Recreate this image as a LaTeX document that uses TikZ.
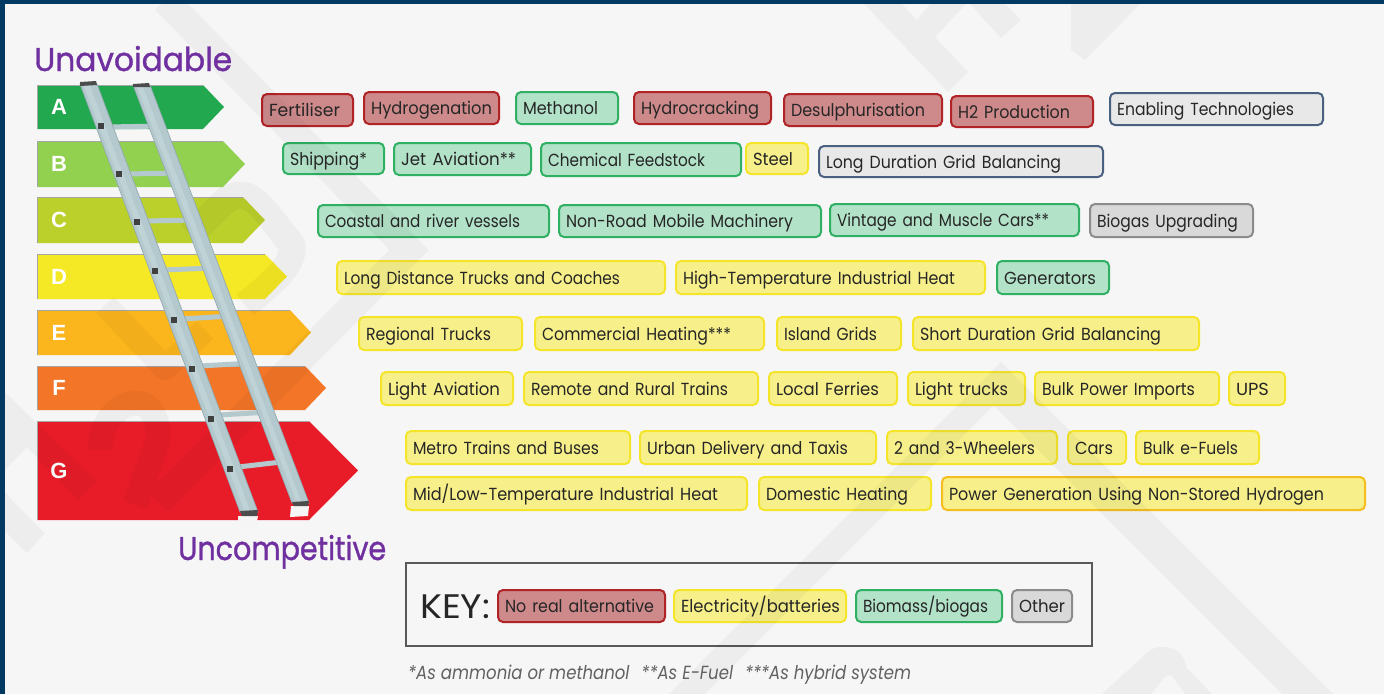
\documentclass[tikz,border=0pt]{standalone}
\usepackage{fontspec}
\setmainfont[FakeStretch=0.875]{Poppins}
\newfontfamily\headfont[FakeStretch=0.95,FakeBold=1]{Poppins}
\newfontfamily\keyfont{Poppins}
\newfontfamily\bandfont{Liberation Sans}
\definecolor{pagebg}{HTML}{F6F6F6}
\definecolor{frame}{HTML}{003A63}
\definecolor{purp}{HTML}{7030A0}
\definecolor{redf}{HTML}{CE8A8B}\definecolor{redd}{HTML}{B02327}
\definecolor{yelf}{HTML}{F7F08A}\definecolor{yeld}{HTML}{F4E52B}
\definecolor{grnf}{HTML}{B2E2C8}\definecolor{grnd}{HTML}{2FB062}
\definecolor{gryf}{HTML}{D9D9D9}\definecolor{gryd}{HTML}{8C8C8C}
\definecolor{enaf}{HTML}{E8E8E8}\definecolor{enad}{HTML}{4A6080}
\definecolor{orad}{HTML}{F5BE1E}
\definecolor{railc}{HTML}{B4C9CE}\definecolor{railh}{HTML}{BFD3D7}\definecolor{raild}{HTML}{93A9AF}
\definecolor{bandA}{HTML}{22A84F}\definecolor{bandB}{HTML}{92D14F}\definecolor{bandC}{HTML}{BCD02C}
\definecolor{bandD}{HTML}{F5E824}\definecolor{bandE}{HTML}{FBB61D}\definecolor{bandF}{HTML}{F37527}\definecolor{bandG}{HTML}{E81C29}
\tikzset{x=1pt,y=-1pt,
  tagbase/.style={rounded corners=5pt,line width=2pt,anchor=north west,inner xsep=7pt,inner ysep=0pt,align=left,
    font=\fontsize{17.5}{18}\selectfont,text=black!85,text height=15pt,text depth=2pt},
  redtag/.style={tagbase,draw=redd,fill=redf},
  yeltag/.style={tagbase,draw=yeld,fill=yelf},
  oratag/.style={tagbase,draw=orad,fill=yelf},
  grntag/.style={tagbase,draw=grnd,fill=grnf},
  grytag/.style={tagbase,draw=gryd,fill=gryf},
  enatag/.style={tagbase,draw=enad,fill=enaf},
  bandtxt/.style={font=\bandfont\bfseries\fontsize{22}{24}\selectfont,text=white,inner sep=0pt},
  headtxt/.style={font=\headfont\fontsize{33}{34}\selectfont,text=purp,anchor=base west,inner sep=0pt},
  railpoly/.style={fill=railc,draw=raild,line width=0.7pt},
  rungline/.style={draw=railc,line width=5pt},
  squaremark/.style={fill=black!75},
  capmark/.style={fill=black!70},
  wmstroke/.style={draw=black,line width=28pt,miter limit=10},
}
\newlength{\fitlen}
\newcommand{\fittext}[2]{\settowidth{\fitlen}{#2}\pgfmathsetmacro{\fitf}{#1/\fitlen}\scalebox{\fitf}[1]{#2}}
% name, style, x0, y0, x1, y1, end of text, text
\newcommand{\tagbox}[8]{%
  \pgfmathsetmacro{\tgh}{#6-#4-2}\pgfmathsetmacro{\tgt}{#5-#3-16}\pgfmathsetmacro{\tgf}{#7-#3-8}%
  \node[#2,minimum height=\tgh pt,text width=\tgt pt] (#1) at (#3,#4) {\fittext{\tgf}{#8}};}
\newcommand{\bandarrow}[5]{%
  \pgfmathsetmacro{\bandmid}{(#2+#3)/2}%
  \fill[band#1] (37,#2) -- (#4,#2) -- (#5,\bandmid) -- (#4,#3) -- (37,#3) -- cycle;
  \draw[black!35,line width=0.7pt] (37,#3) -- (37,#2) -- (#4,#2);
  \node[bandtxt] (letter#1) at (59,\bandmid) {#1};}
\newcommand{\ladsq}[2]{\fill[squaremark] (#1-3.2,#2-3) rectangle (#1+3.2,#2+3);}
\begin{document}
\begin{tikzpicture}
\useasboundingbox (0,0) rectangle (1384,694);
\fill[frame] (0,0) rectangle (1384,694);
\fill[pagebg] (5,4) rectangle (1384,694);
% energy-label arrows
\bandarrow{A}{85}{129}{203}{224}
\bandarrow{B}{141}{187}{223}{245}
\bandarrow{C}{197}{243}{243}{265}
\bandarrow{D}{254}{299}{265}{287}
\bandarrow{E}{310}{355}{290}{311}
\bandarrow{F}{366}{410}{305}{326}
\bandarrow{G}{421}{520}{309}{358}
% row A
\tagbox{fert}{redtag}{261}{93}{354}{127}{340}{Fertiliser}
\tagbox{hydg}{redtag}{363}{91}{500}{125}{492}{Hydrogenation}
\tagbox{meth}{grntag}{515}{91}{619}{125}{598}{Methanol}
\tagbox{hydc}{redtag}{633}{91}{772}{125}{759}{Hydrocracking}
\tagbox{desu}{redtag}{783}{93}{943}{127}{925}{Desulphurisation}
\tagbox{htwo}{redtag}{950}{95}{1094}{128}{1070}{H2 Production}
\tagbox{enab}{enatag}{1109}{92}{1324}{126}{1294}{Enabling Technologies}
% row B
\tagbox{ship}{grntag}{282}{142}{385}{175}{367}{Shipping*}
\tagbox{jeta}{grntag}{393}{142}{532}{176}{516}{Jet Aviation**}
\tagbox{chem}{grntag}{540}{142}{742}{177}{705}{Chemical Feedstock}
\tagbox{stee}{yeltag}{745}{142}{809}{175}{793}{Steel}
\tagbox{long}{enatag}{818}{145}{1104}{178}{1061}{Long Duration Grid Balancing}
% row C
\tagbox{coas}{grntag}{317}{204}{550}{238}{520}{Coastal and river vessels}
\tagbox{nonr}{grntag}{558}{204}{822}{238}{793}{Non-Road Mobile Machinery}
\tagbox{vint}{grntag}{829}{203}{1080}{237}{1049}{Vintage and Muscle Cars**}
\tagbox{biog}{grytag}{1089}{203}{1254}{238}{1238}{Biogas Upgrading}
% row D
\tagbox{ldtr}{yeltag}{336}{260}{666}{295}{620}{Long Distance Trucks and Coaches}
\tagbox{high}{yeltag}{675}{260}{986}{295}{955}{High-Temperature Industrial Heat}
\tagbox{gene}{grntag}{996}{260}{1110}{295}{1096}{Generators}
% row E
\tagbox{regi}{yeltag}{358}{316}{523}{351}{491}{Regional Trucks}
\tagbox{comm}{yeltag}{534}{316}{765}{351}{731}{Commercial Heating***}
\tagbox{isla}{yeltag}{776}{316}{902}{351}{877}{Island Grids}
\tagbox{shor}{yeltag}{912}{316}{1200}{351}{1161}{Short Duration Grid Balancing}
% row F
\tagbox{ligh}{yeltag}{380}{371}{514}{406}{500}{Light Aviation}
\tagbox{remo}{yeltag}{523}{371}{759}{406}{728}{Remote and Rural Trains}
\tagbox{loca}{yeltag}{768}{371}{898}{406}{879}{Local Ferries}
\tagbox{ltru}{yeltag}{907}{371}{1026}{406}{1008}{Light trucks}
\tagbox{bulk}{yeltag}{1034}{371}{1220}{406}{1195}{Bulk Power Imports}
\tagbox{upsb}{yeltag}{1228}{371}{1286}{406}{1269}{UPS}
% row G
\tagbox{metr}{yeltag}{405}{430}{631}{465}{599}{Metro Trains and Buses}
\tagbox{urba}{yeltag}{639}{430}{877}{465}{848}{Urban Delivery and Taxis}
\tagbox{whee}{yeltag}{886}{430}{1058}{465}{1035}{2 and 3-Wheelers}
\tagbox{cars}{yeltag}{1067}{430}{1127}{465}{1113}{Cars}
\tagbox{bfue}{yeltag}{1135}{430}{1260}{465}{1238}{Bulk e-Fuels}
\tagbox{midl}{yeltag}{405}{476}{748}{511}{718}{Mid/Low-Temperature Industrial Heat}
\tagbox{dome}{yeltag}{758}{476}{932}{511}{908}{Domestic Heating}
\tagbox{powe}{oratag}{941}{476}{1366}{511}{1324}{Power Generation Using Non-Stored Hydrogen}
% key
\draw[black!65,line width=2pt] (405.5,562.5) rectangle (1092,645.5);
\node[anchor=base west,inner sep=0pt,font=\keyfont\fontsize{34}{36}\selectfont,text=black!85] (keylabel) at (420,618) {\fittext{70}{KEY:}};
\tagbox{kred}{redtag}{497}{589}{666}{623}{654}{No real alternative}
\tagbox{kyel}{yeltag}{673}{589}{847}{623}{840}{Electricity/batteries}
\tagbox{kgrn}{grntag}{855}{589}{1003}{623}{988}{Biomass/biogas}
\tagbox{kgry}{grytag}{1011}{589}{1073}{623}{1065}{Other}
% watermark, showing through everything behind the ladder
\begin{scope}[transparency group,opacity=0.035]
  \draw[wmstroke] (165,0) -- (409,250) -- (158,502);
  \fill (5,392) -- (97,482) -- (78,500) -- (27,447) -- (5,470) -- cycle;
  \fill (5,492) -- (12,500) -- (45,533) -- (27,553) -- (5,531) -- cycle;
  \draw[black,line width=25pt] (100,450) .. controls (100,400) and (160,380) .. (158,440) -- (135,505);
  \draw[black,line width=24pt,line join=round] (105,305) -- (165,368) -- (205,330);
  \draw[black,line width=27pt,line join=round] (190,235) -- (226,200) .. controls (250,185) and (260,205) .. (292,245) .. controls (295,265) and (270,285) .. (245,305);
  \fill (864,4) -- (948,92) -- (968,72) -- (935,37) -- (966,4) -- (930,4) -- (917,20) -- (902,4) -- cycle;
  \fill (970,4) -- (1001,38) -- (1021,20) -- (1005,4) -- cycle;
  \fill (1071,4) -- (1071,50) -- (1085,60) -- (1140,4) -- cycle;
  \fill (1001,362) -- (1333,694) -- (1282,694) -- (993.5,405.5) -- (705,694) -- (669,694) -- cycle;
  \fill (1102,694) -- (1150,650) .. controls (1170,640) and (1186,655) .. (1186,667) -- (1212,694) -- (1185,694) -- (1172,676) .. controls (1165,672) and (1160,685) .. (1151,694) -- cycle;
\end{scope}
% ladder
\draw[rungline] (108,127) -- (160,126);
\draw[rungline] (126,174) -- (177,173);
\draw[rungline] (145,221) -- (195,220);
\draw[rungline] (163,270) -- (213,268);
\draw[rungline] (182,319) -- (231,316);
\draw[rungline] (200,366) -- (252,363);
\draw[rungline] (219,415) -- (270,412);
\draw[rungline] (238,467) -- (290,461);
\fill[white!92!gray] (238,516) -- (258,516) -- (256,526) -- (238,527) -- cycle;
\fill[white!92!gray] (291,506) -- (309,506) -- (308,516) -- (290,517) -- cycle;
\path[railpoly] (80,84) -- (97,84) -- (258,512) -- (240,512) -- cycle;
\path[railpoly] (133,85) -- (150,85) -- (309,503) -- (292,503) -- cycle;
\fill[railh] (84,86) -- (90,86) -- (250,510) -- (244,510) -- cycle;
\fill[railh] (137,87) -- (143,87) -- (301,501) -- (296,501) -- cycle;
\fill[capmark] (80,82) -- (96,81) -- (97,85) -- (80,86) -- cycle;
\fill[capmark] (133,84) -- (149,83) -- (150,87) -- (133,87) -- cycle;
\fill[capmark] (240,511) -- (258,510) -- (257,516) -- (242,516) -- cycle;
\fill[capmark] (292,502) -- (309,501) -- (308,506) -- (294,506) -- cycle;
\ladsq{101}{126}\ladsq{119}{174}\ladsq{137}{222}\ladsq{155}{271}
\ladsq{174}{320}\ladsq{192}{369}\ladsq{211}{419}\ladsq{230}{469}
% headings and footnote
\node[headtxt] (unav) at (34,71) {\fittext{198}{Unavoidable}};
\node[headtxt] (unco) at (178,560) {\fittext{208}{Uncompetitive}};
\node[anchor=base west,inner sep=0pt,font=\itshape\fontsize{19}{20}\selectfont,text=black!62] (foot) at (408,679) {\fittext{503}{*As ammonia or methanol\hspace{12pt}**As E-Fuel\hspace{12pt}***As hybrid system}};
\end{tikzpicture}
\end{document}
